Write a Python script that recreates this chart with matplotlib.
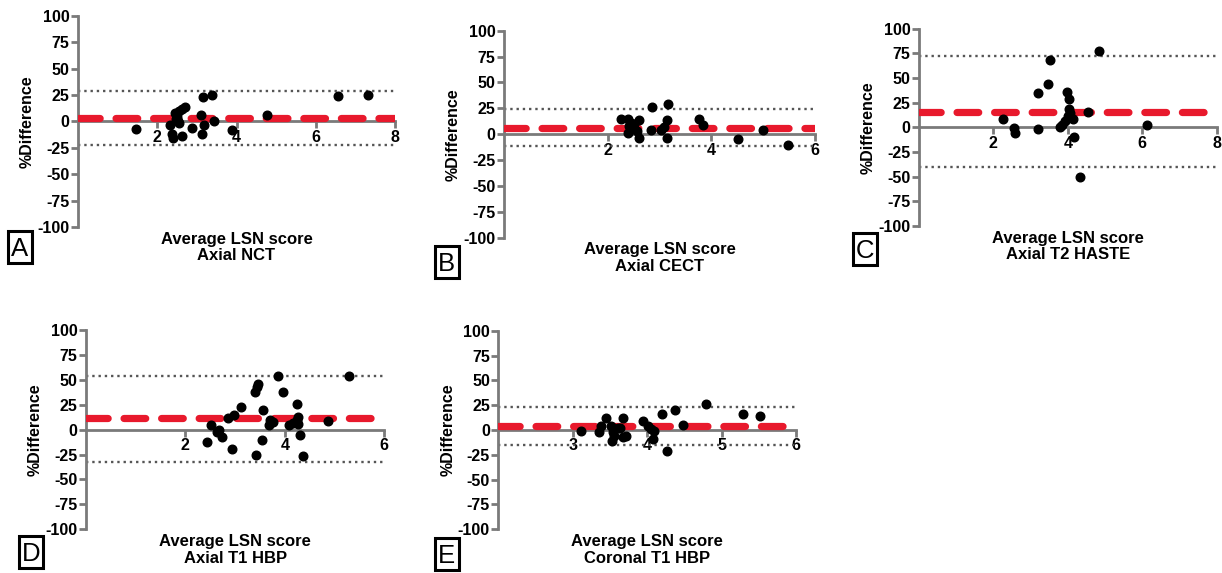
import matplotlib
matplotlib.use('Agg')
import matplotlib.pyplot as plt
from matplotlib.patches import Rectangle

plt.rcParams['font.family'] = ['Liberation Sans', 'DejaVu Sans']

# ---------------- data ----------------
panel_letters = ['A', 'B', 'C', 'D', 'E']
panel_titles = ['Axial NCT', 'Axial CECT', 'Axial T2 HASTE', 'Axial T1 HBP', 'Coronal T1 HBP']
xlabel_main = 'Average LSN score'
ylabel_text = '%Difference'
y_ticks = [-100, -75, -50, -25, 0, 25, 50, 75, 100]
x_limits = [(0, 8), (0, 6), (0, 8), (0, 6), (2, 6)]
x_ticks = [[2, 4, 6, 8], [2, 4, 6], [2, 4, 6, 8], [2, 4, 6], [3, 4, 5, 6]]

a_x = [1.46, 2.32, 2.37, 2.39, 2.62, 2.45, 2.51, 2.56, 2.62, 2.70, 2.53, 2.56, 2.48, 2.87,
       3.12, 3.11, 3.15, 3.38, 3.18, 3.44, 3.88, 4.77, 6.57, 7.33]
a_y = [-7.2, -3.4, -11.9, -15.7, -13.5, 7.6, 4.4, 10.1, 11.7, 13.9, 0.0, -1.9, 2.0, -6.6,
       -11.9, 6.3, 23.4, 25.3, -3.4, 0.7, -8.1, 6.3, 24.3, 24.9]

b_x = [2.25, 2.40, 2.42, 2.40, 2.46, 2.51, 2.45, 2.56, 2.61, 2.61, 2.86, 2.84, 3.02, 3.08,
       3.14, 3.17, 3.14, 3.76, 3.83, 4.51, 4.99, 5.47]
b_y = [14.5, 14.5, 7.7, 1.3, 5.5, 10.3, 11.0, 3.2, 13.5, -3.5, 26.5, 3.9, 4.5, 7.0,
       14.2, 29.0, -3.5, 14.5, 9.0, -4.8, 3.9, -10.0]

c_x = [2.27, 2.56, 2.58, 3.21, 3.21, 3.47, 3.52, 3.79, 3.85, 3.91, 3.99, 4.04, 4.04, 4.06,
       4.01, 4.15, 4.17, 4.33, 4.53, 4.83, 6.12]
c_y = [8.8, -0.5, -5.8, 34.7, -1.7, 44.2, 68.3, 0.0, 2.7, 6.5, 36.0, 28.5, 19.0, 14.5,
       12.0, 8.0, -10.0, -50.3, 15.2, 77.0, 2.4]

d_x = [2.44, 2.51, 2.63, 2.68, 2.74, 2.86, 2.94, 2.98, 3.11, 3.40, 3.43, 3.45, 3.41, 3.57,
       3.55, 3.69, 3.70, 3.77, 3.87, 3.97, 4.08, 4.16, 4.24, 4.26, 4.24, 4.27, 4.30, 4.36,
       4.86, 5.29]
d_y = [-12.4, 5.0, -2.3, 0.0, -7.4, 11.7, -19.7, 14.4, 22.7, 37.8, 42.8, 45.5, -25.1, 20.0,
       -10.0, 4.3, 9.4, 7.7, 53.8, 37.8, 5.0, 6.7, 26.0, 12.7, 10.0, 6.0, -5.0, -26.8,
       8.4, 53.8]

e_x = [3.11, 3.35, 3.38, 3.45, 3.52, 3.53, 3.54, 3.56, 3.61, 3.64, 3.67, 3.67, 3.71, 3.94,
       4.01, 4.05, 4.09, 4.08, 4.20, 4.27, 4.38, 4.48, 4.79, 5.29, 5.52]
e_y = [-0.7, -2.3, 4.4, 11.7, 4.4, -10.7, -2.3, -5.7, 1.7, 1.7, 11.7, -7.4, -5.7, 9.4,
       4.4, 1.0, -1.3, -9.0, 16.1, -20.8, 20.1, 5.0, 26.2, 16.1, 14.4]

bias = [3.2, 6.1, 15.9, 11.7, 3.7]
upper_loa = [28.5, 24.2, 72.3, 53.8, 22.8]
lower_loa = [-22.3, -11.3, -40.5, -32.4, -15.4]

xs = [a_x, b_x, c_x, d_x, e_x]
ys = [a_y, b_y, c_y, d_y, e_y]

# ---------------- layout (pixels) ----------------
W, H = 1222, 573
# left, right, top (y=100), bottom (y=-100)
boxes_px = [(78, 395, 15.7, 227), (504, 815, 30.7, 237.7), (919, 1216.7, 28.7, 226),
            (86, 384.3, 330, 529.3), (498.3, 796, 330.7, 529.3)]
letter_px = [(20, 246.5), (446.5, 262), (865, 249), (31, 552), (446.5, 554)]

AXIS_GRAY = '#7a7a7a'
RED = '#e8192c'
DOT_GRAY = '#555555'

fig = plt.figure(figsize=(W / 100, H / 100), dpi=100)

for i in range(5):
    l, r, t, b = boxes_px[i]
    ax = fig.add_axes([l / W, 1 - b / H, (r - l) / W, (b - t) / H])
    ax.set_xlim(*x_limits[i])
    ax.set_ylim(-100, 100)
    for s in ['top', 'right']:
        ax.spines[s].set_visible(False)
    ax.spines['left'].set_color(AXIS_GRAY)
    ax.spines['left'].set_linewidth(2.0)
    ax.spines['bottom'].set_color(AXIS_GRAY)
    ax.spines['bottom'].set_linewidth(2.0)
    ax.spines['bottom'].set_position(('data', 0))
    ax.spines['bottom'].set_zorder(1)
    ax.patch.set_alpha(0)

    ax.set_yticks(y_ticks, labels=[str(v) for v in y_ticks], fontweight='bold')
    ax.set_xticks(x_ticks[i], labels=[str(v) for v in x_ticks[i]], fontweight='bold')
    ax.tick_params(axis='both', color=AXIS_GRAY, labelcolor='black', width=2.0,
                   length=5, labelsize=11.5, direction='out', pad=1)

    x0, x1 = x_limits[i]
    ax.plot([x0, x1], [upper_loa[i], upper_loa[i]], linestyle=':', color=DOT_GRAY,
            linewidth=1.7, zorder=2)
    ax.plot([x0, x1], [lower_loa[i], lower_loa[i]], linestyle=':', color=DOT_GRAY,
            linewidth=1.7, zorder=2)
    ax.plot([x0, x1], [bias[i], bias[i]], color=RED, linewidth=5.2, dashes=(3.0, 2.2),
            dash_capstyle='round', zorder=3)
    ax.plot(xs[i], ys[i], 'o', color='black', markersize=6.2, zorder=5, clip_on=False)

    ax.set_ylabel(ylabel_text, fontsize=11.5, fontweight='bold')
    ax.yaxis.set_label_coords(-43 / (r - l), 0.5)

    cx = (l + r) / 2
    fig.text(cx / W, 1 - (b + 20.5) / H, xlabel_main + '\n' + panel_titles[i],
             ha='center', va='center', fontsize=12, fontweight='bold', linespacing=1.12)

    # panel letter box
    lx, ly = letter_px[i]
    bw, bh = 24, 32
    fig.patches.append(Rectangle(((lx - bw / 2) / W, 1 - (ly + bh / 2) / H), bw / W, bh / H,
                                 transform=fig.transFigure, fill=False,
                                 edgecolor='black', linewidth=2.2))
    fs = 18.5
    cap = 0.716 * fs * 100 / 72
    fig.text(lx / W, 1 - (ly + cap / 2) / H, panel_letters[i], ha='center',
             va='baseline', fontsize=fs, color='black')

fig.savefig('out.png', dpi=100)
